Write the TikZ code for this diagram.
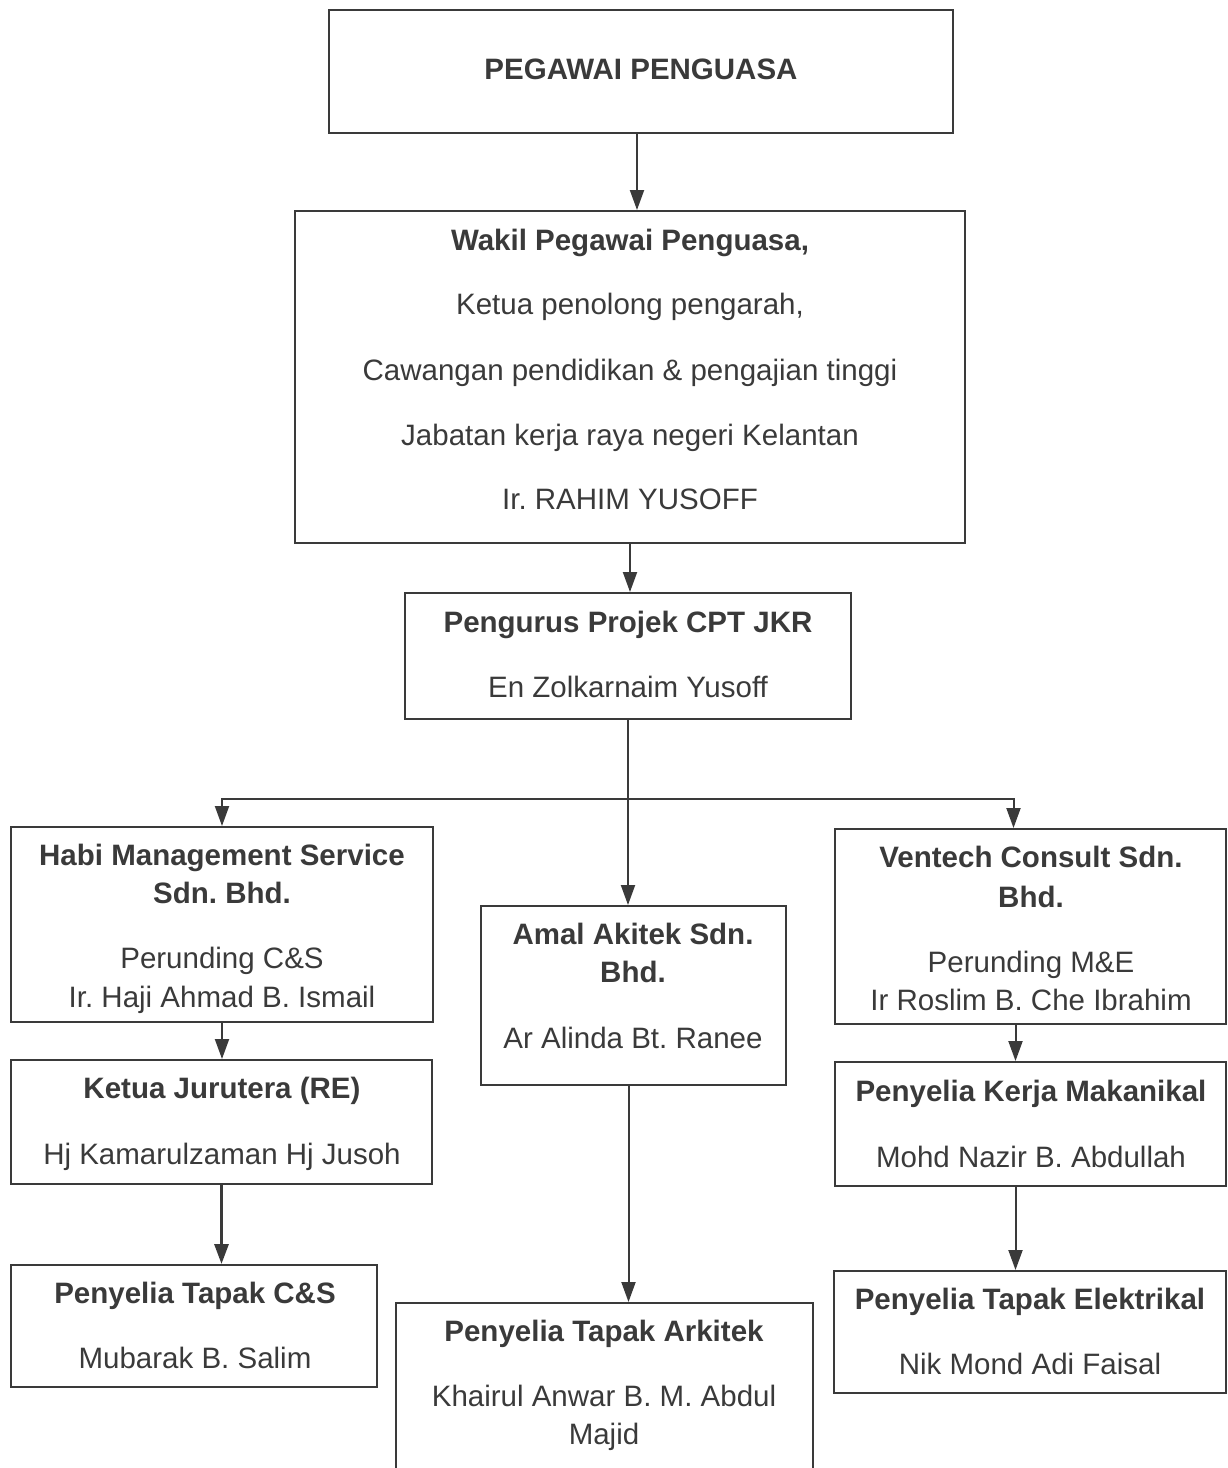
\documentclass[tikz,border=0pt]{standalone}
\usepackage{fontspec}
\setmainfont{Liberation Sans}
\usetikzlibrary{arrows.meta,fit}
\definecolor{ink}{HTML}{3A3A3A}
\frenchspacing
\begin{document}
\begin{tikzpicture}[x=1pt,y=-1pt,
  box/.style={draw=ink, line width=2pt, rectangle, inner sep=0pt},
  lbl/.style={text=ink, inner sep=0pt, anchor=base, font=\fontsize{29.5}{34}\selectfont},
  blbl/.style={text=ink, inner sep=0pt, anchor=base, font=\fontsize{29.5}{34}\selectfont\bfseries},
  arr/.style={draw=ink, line width=2pt, -{Triangle[width=14pt,length=20pt]}},
  ln/.style={draw=ink, line width=2pt}]
\useasboundingbox (0,0) rectangle (1228,1468);
\clip (0,0) rectangle (1228,1468);
% boxes
\node[box, fit={(329,10) (953,133)}] (top) {};
\node[box, fit={(295,211) (965,543)}] (wakil) {};
\node[box, fit={(405,593) (851,719)}] (peng) {};
\node[box, fit={(11,827) (433,1022)}] (habi) {};
\node[box, fit={(481,906) (786,1085)}] (amal) {};
\node[box, fit={(835,829) (1226,1024)}] (vent) {};
\node[box, fit={(11,1060) (432,1184)}] (ketua) {};
\node[box, fit={(835,1062) (1226,1186)}] (mak) {};
\node[box, fit={(11,1265) (377,1387)}] (cs) {};
\node[box, fit={(396,1303) (813,1500)}] (ark) {};
\node[box, fit={(834,1271) (1226,1393)}] (elek) {};
% texts
\node[blbl] (t1) at (641,79) {PEGAWAI PENGUASA};
\node[blbl] (w1) at (630,250) {Wakil Pegawai Penguasa,};
\node[lbl] (w2) at (630,314) {Ketua penolong pengarah,};
\node[lbl] (w3) at (630,380) {Cawangan pendidikan \& pengajian tinggi};
\node[lbl] (w4) at (630,445) {Jabatan kerja raya negeri Kelantan};
\node[lbl] (w5) at (630,509) {Ir. RAHIM YUSOFF};
\node[blbl] (p1) at (628,632) {Pengurus Projek CPT JKR};
\node[lbl] (p2) at (628,697) {En Zolkarnaim Yusoff};
\node[blbl] (h1) at (222,865) {Habi Management Service};
\node[blbl] (h2) at (222,903) {Sdn. Bhd.};
\node[lbl] (h3) at (222,968) {Perunding C\&S};
\node[lbl] (h4) at (222,1007) {Ir. Haji Ahmad B. Ismail};
\node[blbl] (a1) at (633,944) {Amal Akitek Sdn.};
\node[blbl] (a2) at (633,982) {Bhd.};
\node[lbl] (a3) at (633,1048) {Ar Alinda Bt. Ranee};
\node[blbl] (v1) at (1031,867) {Ventech Consult Sdn.};
\node[blbl] (v2) at (1031,907) {Bhd.};
\node[lbl] (v3) at (1031,972) {Perunding M\&E};
\node[lbl] (v4) at (1031,1010) {Ir Roslim B. Che Ibrahim};
\node[blbl] (k1) at (222,1098) {Ketua Jurutera (RE)};
\node[lbl] (k2) at (222,1164) {Hj Kamarulzaman Hj Jusoh};
\node[blbl] (m1) at (1031,1101) {Penyelia Kerja Makanikal};
\node[lbl] (m2) at (1031,1167) {Mohd Nazir B. Abdullah};
\node[blbl] (c1) at (195,1303) {Penyelia Tapak C\&S};
\node[lbl] (c2) at (195,1368) {Mubarak B. Salim};
\node[blbl] (r1) at (604,1341) {Penyelia Tapak Arkitek};
\node[lbl] (r2) at (604,1406) {Khairul Anwar B. M. Abdul};
\node[lbl] (r3) at (604,1444) {Majid};
\node[blbl] (e1) at (1030,1309) {Penyelia Tapak Elektrikal};
\node[lbl] (e2) at (1030,1374) {Nik Mond Adi Faisal};
% connectors
\draw[arr] ([xshift=-4pt]top.south) -- ([xshift=-4pt]top.south |- wakil.north);
\draw[arr] (wakil.south) -- (wakil.south |- peng.north);
\coordinate (j) at ([yshift=-79pt]peng.south);
\draw[ln] (peng.south) -- (j);
\draw[arr] (j) -| (habi.north);
\draw[arr] (j) -| ([xshift=-17pt]vent.north);
\draw[arr] (j) -- (j |- amal.north);
\draw[arr] (habi.south) -- (habi.south |- ketua.north);
\draw[arr, line width=3pt] (ketua.south) -- (ketua.south |- cs.north);
\draw[arr] ([xshift=-5pt]amal.south) -- ([xshift=-5pt]amal.south |- ark.north);
\draw[arr] ([xshift=-15pt]vent.south) -- ([xshift=-15pt]vent.south |- mak.north);
\draw[arr] ([xshift=-15pt]mak.south) -- ([xshift=-15pt]mak.south |- elek.north);
\end{tikzpicture}
\end{document}
